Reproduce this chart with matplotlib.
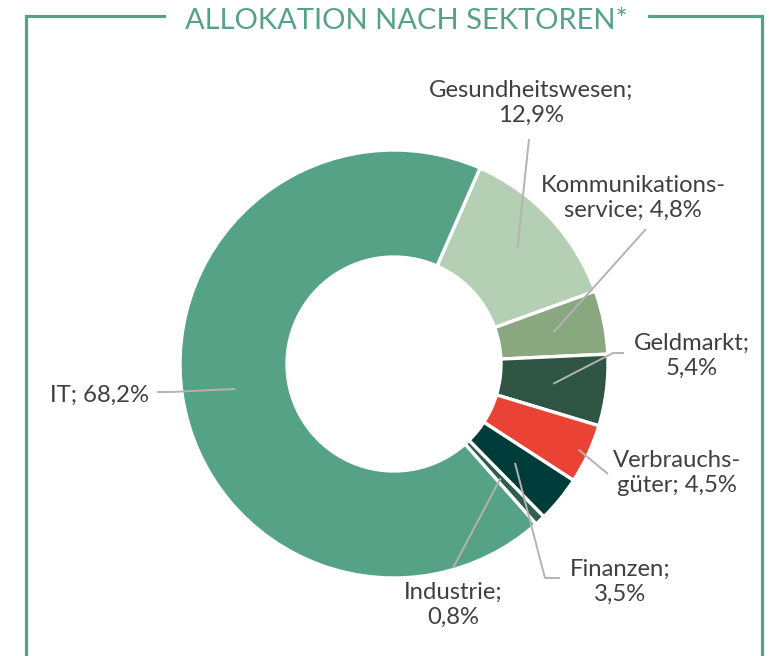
import matplotlib
matplotlib.use("Agg")
import matplotlib.pyplot as plt
import numpy as np

plt.rcParams['font.family'] = ['Lato', 'DejaVu Sans']

# ---- data ----
sectors = ["Gesundheitswesen", "Kommunikationsservice", "Geldmarkt",
           "Verbrauchsgüter", "Finanzen", "Industrie", "IT"]
values = [12.9, 4.8, 5.4, 4.5, 3.5, 0.8, 68.2]
label_texts = ["Gesundheitswesen;\n12,9%", "Kommunikations-\nservice; 4,8%",
               "Geldmarkt;\n5,4%", "Verbrauchs-\ngüter; 4,5%",
               "Finanzen;\n3,5%", "Industrie;\n0,8%", "IT; 68,2%"]
colors = ["#b4cfb4", "#8aa880", "#2e5443", "#ea4335", "#003c3a", "#2f5f4a", "#55a287"]
title = "ALLOKATION NACH SEKTOREN*"

# ---- layout (pixel coordinates, y from top) ----
W, H = 769, 656
cx, cy, R = 394, 364, 214
anchor_frac = [0.79, 0.76, 0.75, 0.95, 0.73, 0.73, 0.75]
text_pos = [(531, 103), (633, 198), (692, 356), (677, 473), (620, 582), (453, 605), (100, 395)]
elbows = [
    [(529, 139)],
    [(646, 229)],
    [(613, 353), (624, 353)],
    [(608, 474)],
    [(545, 578), (560, 578)],
    [(453, 568)],
    [(171, 392), (157, 392)],
]

fig = plt.figure(figsize=(W / 100, H / 100), dpi=100)
ax = fig.add_axes([0, 0, 1, 1])

def P(x, y):
    return x, H - y

wedges, _ = ax.pie(values, colors=colors, startangle=90 - 23.7, counterclock=False,
                   center=P(cx, cy), radius=R, frame=True,
                   wedgeprops=dict(width=R * 0.5, edgecolor='white', linewidth=2.4))
ax.set_xlim(0, W)
ax.set_ylim(0, H)
ax.set_aspect('equal')
ax.axis('off')

line_color = "#b3b3b3"
for w, frac, txt, tp, el in zip(wedges, anchor_frac, label_texts, text_pos, elbows):
    th = np.deg2rad((w.theta1 + w.theta2) / 2)
    ax_x = cx + R * frac * np.cos(th)
    ax_y = (H - cy) + R * frac * np.sin(th)
    xs = [ax_x] + [e[0] for e in el]
    ys = [ax_y] + [H - e[1] for e in el]
    ax.plot(xs, ys, color=line_color, lw=1.4, solid_capstyle='butt')
    ax.text(*P(*tp), txt, ha='center', va='center', fontsize=17.2,
            color='#404040', linespacing=1.2)

# frame
fc = "#56a287"
lw = 2.3
ax.plot([26, 26, 164], [0, H - 15.5, H - 15.5], color=fc, lw=lw, solid_joinstyle='miter')
ax.plot([649, 762, 762], [H - 15.5, H - 15.5, 0], color=fc, lw=lw, solid_joinstyle='miter')
ax.text(*P(406.5, 21), title, ha='center', va='center', fontsize=21,
        color=fc, fontweight='normal')

fig.savefig("out.png", dpi=100)
